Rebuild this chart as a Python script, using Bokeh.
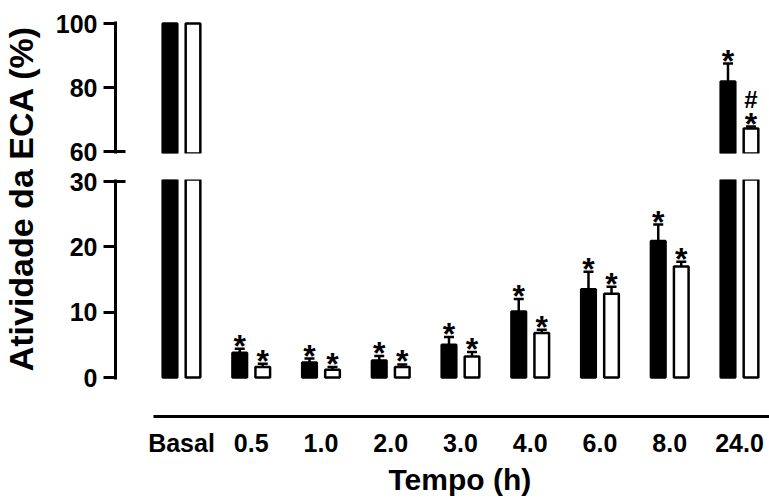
import numpy as np
from bokeh.plotting import figure
from bokeh.layouts import row, column
from bokeh.models import Range1d, FixedTicker, Whisker, TeeHead, ColumnDataSource, Title
from bokeh.core.properties import value
from bokeh.embed import file_html
from bokeh.resources import INLINE

# ---------------- data ----------------
categories = ["Basal", "0.5", "1.0", "2.0", "3.0", "4.0", "6.0", "8.0", "24.0"]
black_mean = [100, 3.8, 2.3, 2.6, 5.0, 10.1, 13.5, 20.9, 81.9]
black_sem = [0, 0.6, 0.6, 0.7, 1.2, 1.9, 2.7, 2.5, 5.6]
white_mean = [100, 1.6, 1.2, 1.6, 3.2, 6.8, 12.8, 17.0, 67.2]
white_sem = [0, 0.5, 0.4, 0.4, 0.7, 0.5, 1.1, 0.7, 0.6]
black_mark = ["", "*", "*", "*", "*", "*", "*", "*", "*"]
white_mark = ["", "*", "*", "*", "*", "*", "*", "*", "*"]
white_hash = ["", "", "", "", "", "", "", "", "#"]
upper_ticks = [60, 80, 100]
lower_ticks = [0, 10, 20, 30]
y_title = "Atividade da ECA (%)"
x_title = "Tempo (h)"

# ---------------- layout constants (pixels) ----------------
FONT = "Liberation Sans"
TITLE_W = 45
TOTAL_W = 769
COL_W = TOTAL_W - TITLE_W
FRAME_LEFT = 115
FRAME_RIGHT = TOTAL_W
XLINE_LEFT = 153
XTITLE_LEFT = 388
GROUP0 = 181.0
PX_CAT = 69.75
OFF = 0.165
BAR_W = 0.21
BORDER_L = FRAME_LEFT - TITLE_W

x = np.arange(len(categories))
x_range = Range1d((FRAME_LEFT - GROUP0) / PX_CAT, (FRAME_RIGHT - GROUP0) / PX_CAT)


def style_y(p, ticks):
    ax = p.yaxis[0]
    ax.ticker = FixedTicker(ticks=ticks)
    ax.minor_tick_line_color = None
    ax.axis_line_width = 3
    ax.major_tick_line_width = 3
    ax.major_tick_out = 12
    ax.major_tick_in = 0
    ax.major_label_standoff = 6
    ax.major_label_text_font = FONT
    ax.major_label_text_font_style = "bold"
    ax.major_label_text_font_size = "25px"
    ax.major_label_text_color = "black"
    ax.axis_line_color = "black"
    ax.major_tick_line_color = "black"


def base_fig(height, yrange, top, bottom):
    p = figure(width=COL_W, height=height, x_range=x_range, y_range=yrange,
               output_backend="svg", toolbar_location=None, tools="",
               min_border_top=top, min_border_bottom=bottom,
               min_border_left=BORDER_L, min_border_right=0)
    p.outline_line_color = None
    p.xgrid.visible = False
    p.ygrid.visible = False
    p.background_fill_color = "white"
    p.border_fill_color = "white"
    return p


def draw_panel(p, lo, hi, break_y):
    for off, mean, sem, mark, fill in ((-OFF, black_mean, black_sem, black_mark, "black"),
                                       (OFF, white_mean, white_sem, white_mark, "white")):
        # bars reaching into this segment
        bidx = [i for i in range(len(x)) if mean[i] >= lo]
        p.vbar(x=[x[i] + off for i in bidx], top=[mean[i] for i in bidx], bottom=0,
               width=BAR_W, fill_color=fill, line_color="black", line_width=2.5)
        # error bars + significance marks inside this segment
        idx = [i for i in range(len(x)) if sem[i] > 0 and lo <= mean[i] and mean[i] + sem[i] <= hi]
        if not idx:
            continue
        src = ColumnDataSource(dict(
            x=[x[i] + off for i in idx],
            lower=[mean[i] for i in idx],
            upper=[mean[i] + sem[i] for i in idx],
            mark=[mark[i] for i in idx],
        ))
        p.add_layout(Whisker(source=src, base="x", lower="lower", upper="upper",
                             dimension="height", line_width=2.5, line_color="black",
                             upper_head=TeeHead(size=10, line_width=2.5, line_color="black"),
                             lower_head=None))
        p.text(x="x", y="upper", text="mark", source=src,
               text_font=value(FONT), text_font_style="bold", text_font_size="32px",
               text_align="center", text_baseline="alphabetic", y_offset=-3,
               text_color="black")
        if off > 0:
            hidx = [i for i in idx if white_hash[i]]
            if hidx:
                hsrc = ColumnDataSource(dict(
                    x=[x[i] + off for i in hidx],
                    y=[mean[i] + sem[i] for i in hidx],
                    t=[white_hash[i] for i in hidx],
                ))
                p.text(x="x", y="y", text="t", source=hsrc,
                       text_font=value(FONT), text_font_style="bold", text_font_size="24px",
                       text_align="center", text_baseline="alphabetic", y_offset=-27,
                       text_color="black")
    # axis-break tick extending into the plot
    x0 = x_range.start
    p.segment(x0=[x0], y0=[break_y], x1=[x0 + 10 / PX_CAT], y1=[break_y],
              line_color="black", line_width=3)


# ---------------- upper segment (60-100): frame y 21..153 ----------------
u_pad = 2 / 3.2
p_up = base_fig(166, Range1d(upper_ticks[0] - u_pad, upper_ticks[-1] + u_pad), 21, 13)
p_up.xaxis.visible = False
style_y(p_up, upper_ticks)
draw_panel(p_up, upper_ticks[0], upper_ticks[-1], upper_ticks[0])

# ---------------- lower segment (0-30): frame y 179..379 ----------------
l_pad = 2 / (196 / 30)
p_lo = base_fig(225, Range1d(lower_ticks[0] - l_pad, lower_ticks[-1] + l_pad), 13, 12)
p_lo.xaxis.visible = False
style_y(p_lo, lower_ticks)
draw_panel(p_lo, lower_ticks[0], lower_ticks[-1], lower_ticks[-1])

# ---------------- x axis strip: frame y 391..418 ----------------
X_FRAME, X_BOT = 27, 82
p_x = base_fig(X_FRAME + X_BOT, Range1d(0, X_FRAME), 0, X_BOT)
p_x.yaxis.visible = False
p_x.segment(x0=[(XLINE_LEFT - GROUP0) / PX_CAT], y0=[2], x1=[x_range.end], y1=[2],
            line_color="black", line_width=3)
xa = p_x.xaxis[0]
xa.ticker = FixedTicker(ticks=list(x))
xa.major_label_overrides = {int(i): c for i, c in zip(x, categories)}
xa.minor_tick_line_color = None
xa.major_tick_line_color = None
xa.major_tick_out = 0
xa.major_tick_in = 0
xa.axis_line_color = None
xa.major_label_standoff = 10
xa.major_label_text_font = FONT
xa.major_label_text_font_style = "bold"
xa.major_label_text_font_size = "25px"
xa.major_label_text_color = "black"
p_x.add_layout(Title(text=x_title, align="left", offset=XTITLE_LEFT - FRAME_LEFT,
                     standoff=3, text_font=FONT, text_font_style="bold",
                     text_font_size="30px", text_color="black"), "below")

col_h = p_up.height + p_lo.height + p_x.height

# ---------------- y title strip ----------------
p_t = figure(width=TITLE_W, height=col_h, x_range=Range1d(0, TITLE_W),
             y_range=Range1d(0, col_h), output_backend="svg",
             toolbar_location=None, tools="",
             min_border_top=0, min_border_bottom=0, min_border_left=0, min_border_right=0)
p_t.axis.visible = False
p_t.grid.visible = False
p_t.outline_line_color = None
p_t.text(x=[20], y=[col_h - 198], text=[y_title], angle=np.pi / 2,
         text_font=value(FONT), text_font_style="bold", text_font_size="34px",
         text_align="center", text_baseline="middle", text_color="black")

layout = row(p_t, column(p_up, p_lo, p_x))

with open("out.html", "w") as f:
    f.write(file_html(layout, INLINE))
